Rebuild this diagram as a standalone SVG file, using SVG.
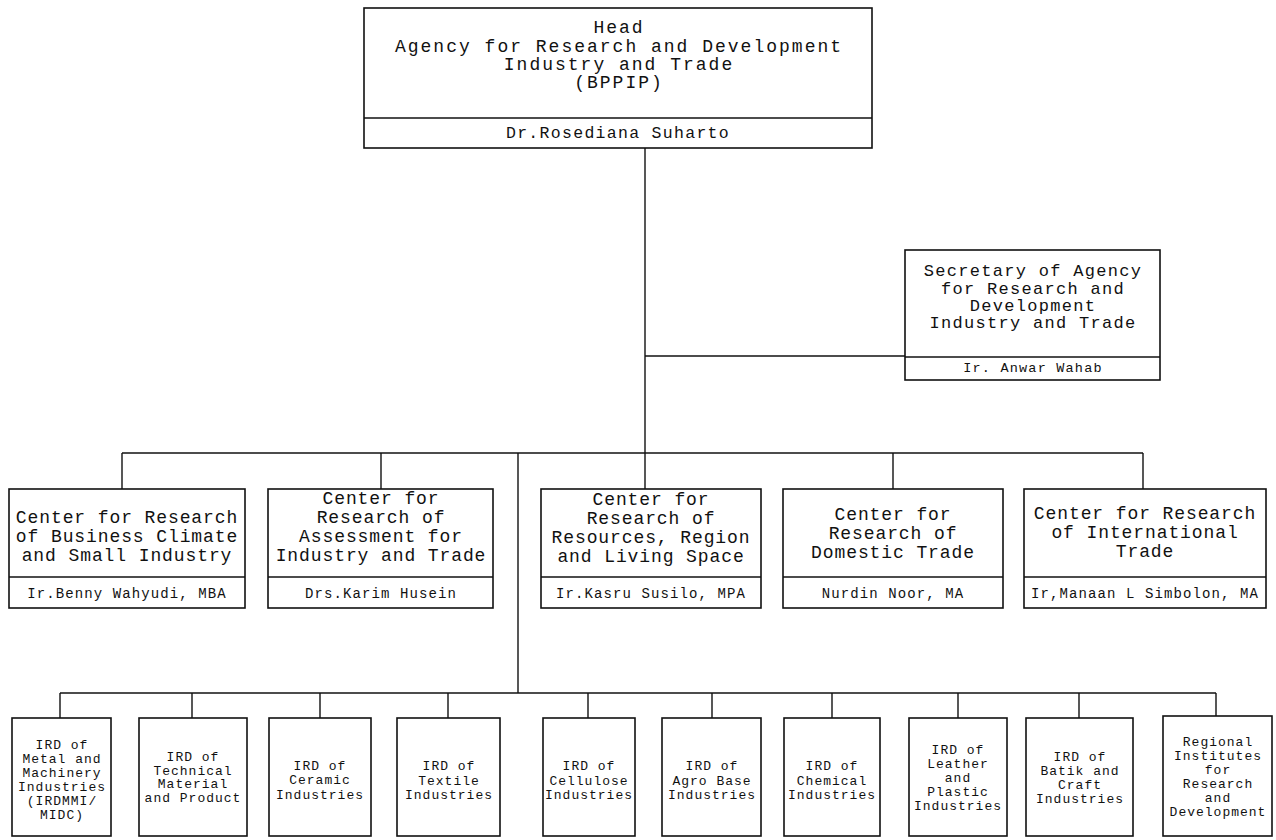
<svg xmlns="http://www.w3.org/2000/svg" width="1276" height="840" viewBox="0 0 1276 840">
<style>
.box{fill:#fff;stroke:#111;stroke-width:1.6}
.div{stroke:#111;stroke-width:1.4}
.ln{stroke:#111;stroke-width:1.4;fill:none}
text{font-family:"Liberation Mono","DejaVu Sans Mono",monospace;fill:#111;text-anchor:middle}
.t1{font-size:18px;letter-spacing:2px}
.n1{font-size:16.5px;letter-spacing:1.3px}
.t2{font-size:18px;letter-spacing:0.9px}
.n2{font-size:14px;letter-spacing:1.1px}
.t3{font-size:17px;letter-spacing:1.3px}
.n3{font-size:13.5px;letter-spacing:1.2px}
.t4{font-size:13px;letter-spacing:1px}
</style>
<rect width="1276" height="840" fill="#fff"/>
<g id="connectors">
<line class="ln" x1="645" y1="148" x2="645" y2="453"/>
<line class="ln" x1="645" y1="356" x2="905" y2="356"/>
<line class="ln" x1="122" y1="453" x2="1143" y2="453"/>
<line class="ln" x1="122" y1="453" x2="122" y2="489"/>
<line class="ln" x1="381" y1="453" x2="381" y2="489"/>
<line class="ln" x1="645" y1="453" x2="645" y2="489"/>
<line class="ln" x1="893" y1="453" x2="893" y2="489"/>
<line class="ln" x1="1143" y1="453" x2="1143" y2="489"/>
<line class="ln" x1="518" y1="453" x2="518" y2="693"/>
<line class="ln" x1="60" y1="693" x2="1216" y2="693"/>
<line class="ln" x1="60" y1="693" x2="60" y2="718"/>
<line class="ln" x1="192" y1="693" x2="192" y2="718"/>
<line class="ln" x1="320" y1="693" x2="320" y2="718"/>
<line class="ln" x1="448" y1="693" x2="448" y2="718"/>
<line class="ln" x1="588" y1="693" x2="588" y2="718"/>
<line class="ln" x1="712" y1="693" x2="712" y2="718"/>
<line class="ln" x1="832" y1="693" x2="832" y2="718"/>
<line class="ln" x1="958" y1="693" x2="958" y2="718"/>
<line class="ln" x1="1079" y1="693" x2="1079" y2="718"/>
<line class="ln" x1="1216" y1="693" x2="1216" y2="716"/>
</g>
<g id="head">
<rect class="box" x="364" y="8" width="508" height="140"/>
<line class="div" x1="364" y1="118" x2="872" y2="118"/>
<text class="t1" x="619" y="33">Head</text>
<text class="t1" x="619" y="52">Agency for Research and Development</text>
<text class="t1" x="619" y="70">Industry and Trade</text>
<text class="t1" x="619" y="88">(BPPIP)</text>
<text class="n1" x="618" y="138">Dr.Rosediana Suharto</text>
</g>
<g id="secretary">
<rect class="box" x="905" y="250" width="255" height="130"/>
<line class="div" x1="905" y1="357" x2="1160" y2="357"/>
<text class="t3" x="1033" y="276">Secretary of Agency</text>
<text class="t3" x="1033" y="294">for Research and</text>
<text class="t3" x="1033" y="311">Development</text>
<text class="t3" x="1033" y="328">Industry and Trade</text>
<text class="n3" x="1033" y="372">Ir. Anwar Wahab</text>
</g>
<g id="center1">
<rect class="box" x="9" y="489" width="236" height="119"/>
<line class="div" x1="9" y1="577" x2="245" y2="577"/>
<text class="t2" x="127" y="523">Center for Research</text>
<text class="t2" x="127" y="542">of Business Climate</text>
<text class="t2" x="127" y="561">and Small Industry</text>
<text class="n2" x="127" y="598">Ir.Benny Wahyudi, MBA</text>
</g>
<g id="center2">
<rect class="box" x="268" y="489" width="225" height="119"/>
<line class="div" x1="268" y1="577" x2="493" y2="577"/>
<text class="t2" x="381" y="504">Center for</text>
<text class="t2" x="381" y="523">Research of</text>
<text class="t2" x="381" y="542">Assessment for</text>
<text class="t2" x="381" y="561">Industry and Trade</text>
<text class="n2" x="381" y="598">Drs.Karim Husein</text>
</g>
<g id="center3">
<rect class="box" x="541" y="489" width="220" height="119"/>
<line class="div" x1="541" y1="577" x2="761" y2="577"/>
<text class="t2" x="651" y="505">Center for</text>
<text class="t2" x="651" y="524">Research of</text>
<text class="t2" x="651" y="543">Resources, Region</text>
<text class="t2" x="651" y="562">and Living Space</text>
<text class="n2" x="651" y="598">Ir.Kasru Susilo, MPA</text>
</g>
<g id="center4">
<rect class="box" x="783" y="489" width="220" height="119"/>
<line class="div" x1="783" y1="577" x2="1003" y2="577"/>
<text class="t2" x="893" y="520">Center for</text>
<text class="t2" x="893" y="539">Research of</text>
<text class="t2" x="893" y="558">Domestic Trade</text>
<text class="n2" x="893" y="598">Nurdin Noor, MA</text>
</g>
<g id="center5">
<rect class="box" x="1024" y="489" width="242" height="119"/>
<line class="div" x1="1024" y1="577" x2="1266" y2="577"/>
<text class="t2" x="1145" y="519">Center for Research</text>
<text class="t2" x="1145" y="538">of International</text>
<text class="t2" x="1145" y="557">Trade</text>
<text class="n2" x="1145" y="598">Ir,Manaan L Simbolon, MA</text>
</g>
<g id="ird1">
<rect class="box" x="12" y="718" width="99" height="118"/>
<text class="t4" x="62" y="749">IRD of</text>
<text class="t4" x="62" y="763">Metal and</text>
<text class="t4" x="62" y="777">Machinery</text>
<text class="t4" x="62" y="791">Industries</text>
<text class="t4" x="62" y="805">(IRDMMI/</text>
<text class="t4" x="62" y="819">MIDC)</text>
</g>
<g id="ird2">
<rect class="box" x="139" y="718" width="108" height="118"/>
<text class="t4" x="193" y="761">IRD of</text>
<text class="t4" x="193" y="775">Technical</text>
<text class="t4" x="193" y="788">Material</text>
<text class="t4" x="193" y="802">and Product</text>
</g>
<g id="ird3">
<rect class="box" x="269" y="718" width="102" height="118"/>
<text class="t4" x="320" y="770">IRD of</text>
<text class="t4" x="320" y="784">Ceramic</text>
<text class="t4" x="320" y="799">Industries</text>
</g>
<g id="ird4">
<rect class="box" x="397" y="718" width="103" height="118"/>
<text class="t4" x="449" y="770">IRD of</text>
<text class="t4" x="449" y="785">Textile</text>
<text class="t4" x="449" y="799">Industries</text>
</g>
<g id="ird5">
<rect class="box" x="543" y="718" width="92" height="118"/>
<text class="t4" x="589" y="770">IRD of</text>
<text class="t4" x="589" y="785">Cellulose</text>
<text class="t4" x="589" y="799">Industries</text>
</g>
<g id="ird6">
<rect class="box" x="662" y="718" width="99" height="118"/>
<text class="t4" x="712" y="770">IRD of</text>
<text class="t4" x="712" y="785">Agro Base</text>
<text class="t4" x="712" y="799">Industries</text>
</g>
<g id="ird7">
<rect class="box" x="784" y="718" width="96" height="118"/>
<text class="t4" x="832" y="770">IRD of</text>
<text class="t4" x="832" y="785">Chemical</text>
<text class="t4" x="832" y="799">Industries</text>
</g>
<g id="ird8">
<rect class="box" x="909" y="718" width="98" height="118"/>
<text class="t4" x="958" y="754">IRD of</text>
<text class="t4" x="958" y="768">Leather</text>
<text class="t4" x="958" y="782">and</text>
<text class="t4" x="958" y="796">Plastic</text>
<text class="t4" x="958" y="810">Industries</text>
</g>
<g id="ird9">
<rect class="box" x="1026" y="718" width="107" height="118"/>
<text class="t4" x="1080" y="761">IRD of</text>
<text class="t4" x="1080" y="775">Batik and</text>
<text class="t4" x="1080" y="789">Craft</text>
<text class="t4" x="1080" y="803">Industries</text>
</g>
<g id="ird10">
<rect class="box" x="1163" y="716" width="109" height="120"/>
<text class="t4" x="1218" y="746">Regional</text>
<text class="t4" x="1218" y="760">Institutes</text>
<text class="t4" x="1218" y="774">for</text>
<text class="t4" x="1218" y="788">Research</text>
<text class="t4" x="1218" y="802">and</text>
<text class="t4" x="1218" y="816">Development</text>
</g>
</svg>
